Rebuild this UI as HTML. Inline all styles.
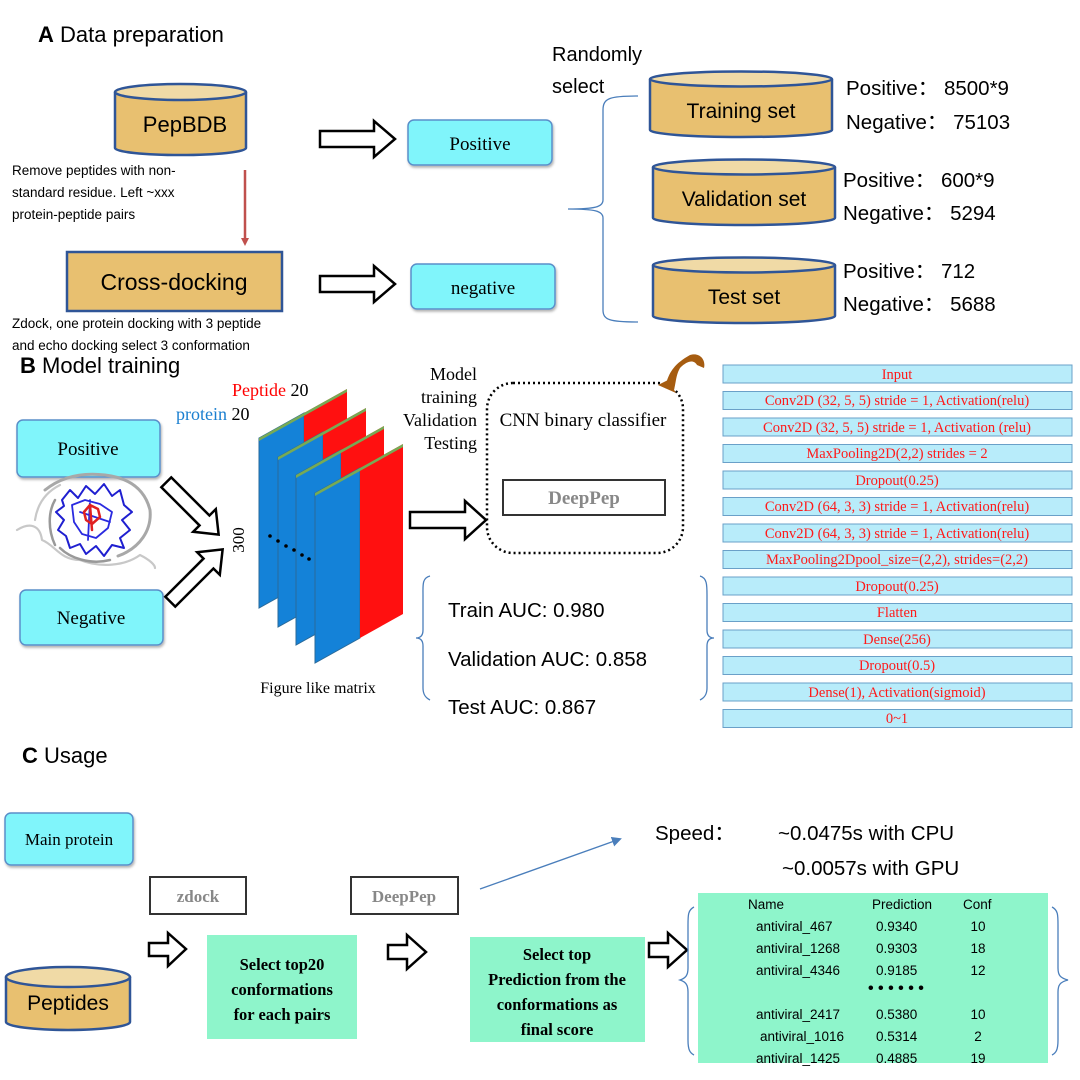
<!DOCTYPE html>
<html><head><meta charset="utf-8"><style>
html,body{margin:0;padding:0;background:#fff;}
svg{display:block}
.s{font-family:"Liberation Sans",sans-serif;}
.r{font-family:"Liberation Serif",serif;}
</style></head><body>
<svg width="1080" height="1080" viewBox="0 0 1080 1080" xmlns="http://www.w3.org/2000/svg">
<defs>
<marker id="ra" markerWidth="8" markerHeight="8" refX="4" refY="4" orient="auto" markerUnits="userSpaceOnUse"><path d="M0,0 L8,4 L0,8 z" fill="#c0504d"/></marker>
<marker id="ba" markerWidth="10" markerHeight="10" refX="8" refY="5" orient="auto" markerUnits="userSpaceOnUse"><path d="M0,0 L10,5 L0,10 z" fill="#4a7ebb"/></marker>
<filter id="sh" x="-10%" y="-10%" width="130%" height="140%"><feDropShadow dx="1" dy="2" stdDeviation="1.2" flood-color="#000" flood-opacity="0.3"/></filter>
</defs>

<!-- A -->
<text x="38" y="42" class="s" font-size="22"><tspan font-weight="bold">A</tspan>  Data preparation</text>

<g stroke="#2f5597" stroke-width="2.5">
<path d="M115,92 L115,148 A65,7 0 0 0 246,148 L246,92" fill="#e8c070"/>
<ellipse cx="180.5" cy="92" rx="65.5" ry="8" fill="#f0daa6"/>
</g>
<text x="185" y="132" text-anchor="middle" class="s" font-size="22">PepBDB</text>
<text class="s" font-size="13.5"><tspan x="12" y="175">Remove peptides with non-</tspan><tspan x="12" y="197">standard residue. Left ~xxx</tspan><tspan x="12" y="219">protein-peptide pairs</tspan></text>
<line x1="245" y1="170" x2="245" y2="242" stroke="#c0504d" stroke-width="2.5" marker-end="url(#ra)"/>
<rect x="67" y="252" width="215" height="59" fill="#e8c070" stroke="#2f5597" stroke-width="2.5"/>
<text x="174" y="290" text-anchor="middle" class="s" font-size="23">Cross-docking</text>
<text class="s" font-size="13.5"><tspan x="12" y="328">Zdock, one protein docking with 3 peptide</tspan><tspan x="12" y="350">and echo docking select 3 conformation</tspan></text>

<path d="M320,131 L374,131 L374,121 L395,139 L374,157 L374,147 L320,147 Z" fill="#fff" stroke="#000" stroke-width="2.5"/>
<path d="M320,276 L374,276 L374,266 L395,284 L374,302 L374,292 L320,292 Z" fill="#fff" stroke="#000" stroke-width="2.5"/>
<rect x="408" y="120" width="144" height="45" rx="6" fill="#80f5fb" stroke="#5a8fc9" stroke-width="1.5" filter="url(#sh)"/>
<text x="480" y="150" text-anchor="middle" class="r" font-size="19">Positive</text>
<rect x="411" y="264" width="144" height="45" rx="6" fill="#80f5fb" stroke="#5a8fc9" stroke-width="1.5" filter="url(#sh)"/>
<text x="483" y="294" text-anchor="middle" class="r" font-size="19">negative</text>

<text class="s" font-size="20"><tspan x="552" y="61">Randomly</tspan><tspan x="552" y="93">select</tspan></text>
<path d="M638,96 C610,96 603,98 603,110 L603,200 C603,207 595,209 568,209 C595,209 603,211 603,218 L603,310 C603,320 610,322 638,322" fill="none" stroke="#4a7ebb" stroke-width="1.3"/>

<g stroke="#2f5597" stroke-width="2.5">
<path d="M650,79 L650,130 A91,7 0 0 0 832,130 L832,79" fill="#e8c070"/>
<ellipse cx="741" cy="79" rx="91" ry="7.5" fill="#f0daa6"/>
<path d="M653,167 L653,218 A91,7 0 0 0 835,218 L835,167" fill="#e8c070"/>
<ellipse cx="744" cy="167" rx="91" ry="7.5" fill="#f0daa6"/>
<path d="M653,265 L653,316 A91,7 0 0 0 835,316 L835,265" fill="#e8c070"/>
<ellipse cx="744" cy="265" rx="91" ry="7.5" fill="#f0daa6"/>
</g>
<text x="741" y="118" text-anchor="middle" class="s" font-size="21">Training set</text>
<text x="744" y="206" text-anchor="middle" class="s" font-size="21">Validation set</text>
<text x="744" y="304" text-anchor="middle" class="s" font-size="21">Test set</text>
<text class="s" font-size="20.5"><tspan x="846" y="95">Positive：  8500*9</tspan><tspan x="846" y="129">Negative：  75103</tspan><tspan x="843" y="187">Positive：  600*9</tspan><tspan x="843" y="220">Negative：  5294</tspan><tspan x="843" y="278">Positive：  712</tspan><tspan x="843" y="311">Negative：  5688</tspan></text>

<!-- B -->
<text x="20" y="373" class="s" font-size="22"><tspan font-weight="bold">B</tspan>  Model training</text>
<rect x="17" y="420" width="143" height="57" rx="6" fill="#80f5fb" stroke="#5a8fc9" stroke-width="1.5" filter="url(#sh)"/>
<text x="88" y="455" text-anchor="middle" class="r" font-size="19">Positive</text>
<rect x="20" y="590" width="143" height="55" rx="6" fill="#80f5fb" stroke="#5a8fc9" stroke-width="1.5" filter="url(#sh)"/>
<text x="91" y="624" text-anchor="middle" class="r" font-size="19">Negative</text>

<!-- protein image -->
<g fill="none" stroke-linecap="round" stroke-linejoin="round">
<path d="M45,490 C60,478 80,472 105,475 C130,478 145,490 150,510 C152,530 140,548 118,556" stroke="#a8a8a8" stroke-width="3"/>
<path d="M35,520 C38,500 50,490 60,485 M17,530 C30,522 40,525 42,540 C55,545 60,560 80,560 C100,568 125,566 140,555 C150,560 155,565 155,568" stroke="#c8c8c8" stroke-width="2.2"/>
<path d="M60,548 C70,558 90,565 110,560 M55,500 C48,512 48,530 55,545" stroke="#999" stroke-width="2.5"/>
<path d="M62,500 L70,490 L78,498 L86,486 L95,494 L104,484 L112,496 L120,490 L124,505 L132,512 L122,520 L130,530 L120,538 L124,548 L112,545 L104,556 L96,546 L86,554 L80,544 L70,548 L66,536 L58,530 L64,520 L56,512 L64,506 Z" stroke="#1f1fd0" stroke-width="2"/>
<path d="M72,505 L85,500 L100,504 L112,512 L108,528 L96,538 L82,534 L74,522 Z M80,512 L110,522 M90,500 L88,540" stroke="#2a2ae0" stroke-width="1.8"/>
<path d="M84,512 L90,505 L98,509 L100,517 L92,524 L86,520 Z M90,505 L92,530" stroke="#e02020" stroke-width="2.5"/>
</g>

<g transform="translate(196,512) rotate(45)"><path d="M-42,-7 L12,-7 L12,-16 L32,0 L12,16 L12,7 L-42,7 Z" fill="#fff" stroke="#000" stroke-width="2.5"/></g>
<g transform="translate(200,572) rotate(-45)"><path d="M-42,-7 L12,-7 L12,-16 L32,0 L12,16 L12,7 L-42,7 Z" fill="#fff" stroke="#000" stroke-width="2.5"/></g>

<text x="232" y="396" class="r" font-size="18"><tspan fill="#ff0000">Peptide</tspan> 20</text>
<text x="176" y="420" class="r" font-size="18"><tspan fill="#1a7fd0">protein</tspan>  20</text>
<text transform="translate(244,540) rotate(-90)" text-anchor="middle" class="r" font-size="17">300</text>

<g>
<g id="slab">
<polygon points="259,438 304,413 304,583 259,608" fill="#1482d8" stroke="#2a6a9a" stroke-width="1"/>
<polygon points="304,413 347,389 347,559 304,583" fill="#ff1010"/>
<polygon points="259,438 347,389 347,392 259,441" fill="#77aa55"/>
</g>
<use href="#slab" transform="translate(19,19)"/>
<use href="#slab" transform="translate(37,37)"/>
<use href="#slab" transform="translate(56,55)"/>
</g>
<g fill="#000"><circle cx="270" cy="536" r="1.8"/><circle cx="278" cy="541" r="1.8"/><circle cx="286" cy="546" r="1.8"/><circle cx="294" cy="550" r="1.8"/><circle cx="302" cy="555" r="1.8"/><circle cx="309" cy="559" r="1.8"/></g>
<text x="318" y="693" text-anchor="middle" class="r" font-size="16">Figure like matrix</text>

<path d="M410,512 L465,512 L465,501 L486,520 L465,539 L465,528 L410,528 Z" fill="#fff" stroke="#000" stroke-width="2.5"/>
<text class="r" font-size="18" text-anchor="end"><tspan x="477" y="380">Model</tspan><tspan x="477" y="403">training</tspan><tspan x="477" y="426">Validation</tspan><tspan x="477" y="449">Testing</tspan></text>
<rect x="487" y="383" width="196" height="170" rx="26" fill="none" stroke="#000" stroke-width="2.5" stroke-dasharray="2 3"/>
<text x="583" y="426" text-anchor="middle" class="r" font-size="19">CNN binary classifier</text>
<rect x="503" y="480" width="162" height="35" fill="#fff" stroke="#333" stroke-width="2"/>
<text x="584" y="504" text-anchor="middle" class="r" font-size="19" font-weight="bold" fill="#888">DeepPep</text>
<path d="M665,388 C668,375 672,365 690,355 C700,352 706,360 704,368 L697,365 C694,360 688,360 680,368 C676,375 676,382 674,390 Z" fill="#a65c10"/>
<path d="M658,385 L676,393 L668,380 Z" fill="#a65c10"/>

<path d="M430,576 C422,578 423,585 423,595 L423,630 C423,636 420,638 416,638 C420,638 423,640 423,646 L423,688 C423,695 426,698 430,700" fill="none" stroke="#4a7ebb" stroke-width="1.3"/>
<path d="M700,576 C707,578 707,585 707,595 L707,630 C707,636 710,638 714,638 C710,638 707,640 707,646 L707,688 C707,695 704,698 700,700" fill="none" stroke="#4a7ebb" stroke-width="1.3"/>
<text class="s" font-size="20.5"><tspan x="448" y="617">Train AUC: 0.980</tspan><tspan x="448" y="666">Validation AUC: 0.858</tspan><tspan x="448" y="714">Test AUC: 0.867</tspan></text>

<g class="r" font-size="14.5" fill="#ff1a1a" text-anchor="middle">
<g fill="#b8ecfa" stroke="#6aa0c8" stroke-width="1">
<rect x="723" y="365" width="349" height="18"/><rect x="723" y="391.5" width="349" height="18"/><rect x="723" y="418" width="349" height="18"/><rect x="723" y="444.5" width="349" height="18"/><rect x="723" y="471" width="349" height="18"/><rect x="723" y="497.5" width="349" height="18"/><rect x="723" y="524" width="349" height="18"/><rect x="723" y="550.5" width="349" height="18"/><rect x="723" y="577" width="349" height="18"/><rect x="723" y="603.5" width="349" height="18"/><rect x="723" y="630" width="349" height="18"/><rect x="723" y="656.5" width="349" height="18"/><rect x="723" y="683" width="349" height="18"/><rect x="723" y="709.5" width="349" height="18"/>
</g>
<text x="897" y="379">Input</text>
<text x="897" y="405">Conv2D (32, 5, 5) stride = 1, Activation(relu)</text>
<text x="897" y="432">Conv2D (32, 5, 5) stride = 1, Activation (relu)</text>
<text x="897" y="458">MaxPooling2D(2,2) strides = 2</text>
<text x="897" y="485">Dropout(0.25)</text>
<text x="897" y="511">Conv2D (64, 3, 3) stride = 1, Activation(relu)</text>
<text x="897" y="538">Conv2D (64, 3, 3) stride = 1, Activation(relu)</text>
<text x="897" y="564">MaxPooling2Dpool_size=(2,2), strides=(2,2)</text>
<text x="897" y="591">Dropout(0.25)</text>
<text x="897" y="617">Flatten</text>
<text x="897" y="644">Dense(256)</text>
<text x="897" y="670">Dropout(0.5)</text>
<text x="897" y="697">Dense(1), Activation(sigmoid)</text>
<text x="897" y="723">0~1</text>
</g>

<!-- C -->
<text x="22" y="763" class="s" font-size="22"><tspan font-weight="bold">C</tspan>  Usage</text>
<rect x="5" y="813" width="128" height="52" rx="6" fill="#80f5fb" stroke="#5a8fc9" stroke-width="1.5" filter="url(#sh)"/>
<text x="69" y="845" text-anchor="middle" class="r" font-size="17">Main protein</text>
<g stroke="#2f5597" stroke-width="2.5">
<path d="M6,977 L6,1022 A62,8 0 0 0 130,1022 L130,977" fill="#e8c070"/>
<ellipse cx="68" cy="977" rx="62" ry="10" fill="#f0daa6"/>
</g>
<text x="68" y="1010" text-anchor="middle" class="s" font-size="21">Peptides</text>

<rect x="150" y="877" width="96" height="37" fill="#fff" stroke="#333" stroke-width="2"/>
<text x="198" y="902" text-anchor="middle" class="r" font-size="17" font-weight="bold" fill="#888">zdock</text>
<rect x="351" y="877" width="107" height="37" fill="#fff" stroke="#333" stroke-width="2"/>
<text x="404" y="902" text-anchor="middle" class="r" font-size="17" font-weight="bold" fill="#888">DeepPep</text>
<line x1="480" y1="889" x2="620" y2="839" stroke="#4a7ebb" stroke-width="1.3" marker-end="url(#ba)"/>

<path d="M149,943 L168,943 L168,933 L186,949 L168,966 L168,956 L149,956 Z" fill="#fff" stroke="#000" stroke-width="2.5"/>
<path d="M388,945 L407,945 L407,935 L426,952 L407,969 L407,959 L388,959 Z" fill="#fff" stroke="#000" stroke-width="2.5"/>
<path d="M649,943 L668,943 L668,933 L687,950 L668,967 L668,957 L649,957 Z" fill="#fff" stroke="#000" stroke-width="2.5"/>

<rect x="207" y="935" width="150" height="104" fill="#8ef5cb"/>
<text class="r" font-size="16.5" font-weight="bold" text-anchor="middle"><tspan x="282" y="970">Select top20</tspan><tspan x="282" y="995">conformations</tspan><tspan x="282" y="1020">for each pairs</tspan></text>
<rect x="470" y="937" width="175" height="105" fill="#8ef5cb"/>
<text class="r" font-size="16.5" font-weight="bold" text-anchor="middle"><tspan x="557" y="960">Select top</tspan><tspan x="557" y="985">Prediction from the</tspan><tspan x="557" y="1010">conformations as</tspan><tspan x="557" y="1035">final score</tspan></text>

<rect x="698" y="893" width="350" height="170" fill="#8ef5cb"/>
<path d="M694,907 C688,910 688,915 688,925 L688,968 C688,975 686,978 680,980 C686,982 688,985 688,992 L688,1040 C688,1050 690,1053 694,1055" fill="none" stroke="#4a7ebb" stroke-width="1.3"/>
<path d="M1052,907 C1058,910 1058,915 1058,925 L1058,968 C1058,975 1060,978 1068,980 C1060,982 1058,985 1058,992 L1058,1040 C1058,1050 1056,1053 1052,1055" fill="none" stroke="#4a7ebb" stroke-width="1.3"/>
<g class="s" font-size="13.5">
<text x="748" y="909">Name</text><text x="872" y="909">Prediction</text><text x="963" y="909">Conf</text>
<text x="756" y="931">antiviral_467</text><text x="876" y="931">0.9340</text><text x="978" y="931" text-anchor="middle">10</text>
<text x="756" y="953">antiviral_1268</text><text x="876" y="953">0.9303</text><text x="978" y="953" text-anchor="middle">18</text>
<text x="756" y="975">antiviral_4346</text><text x="876" y="975">0.9185</text><text x="978" y="975" text-anchor="middle">12</text>
<text x="868" y="993" font-weight="bold" font-size="16">• • • • • •</text>
<text x="756" y="1019">antiviral_2417</text><text x="876" y="1019">0.5380</text><text x="978" y="1019" text-anchor="middle">10</text>
<text x="760" y="1041">antiviral_1016</text><text x="876" y="1041">0.5314</text><text x="978" y="1041" text-anchor="middle">2</text>
<text x="756" y="1063">antiviral_1425</text><text x="876" y="1063">0.4885</text><text x="978" y="1063" text-anchor="middle">19</text>
</g>
<text class="s" font-size="20.5"><tspan x="655" y="840">Speed：</tspan><tspan x="778" y="840">~0.0475s  with CPU</tspan><tspan x="782" y="875">~0.0057s with GPU</tspan></text>
</svg>
</body></html>
